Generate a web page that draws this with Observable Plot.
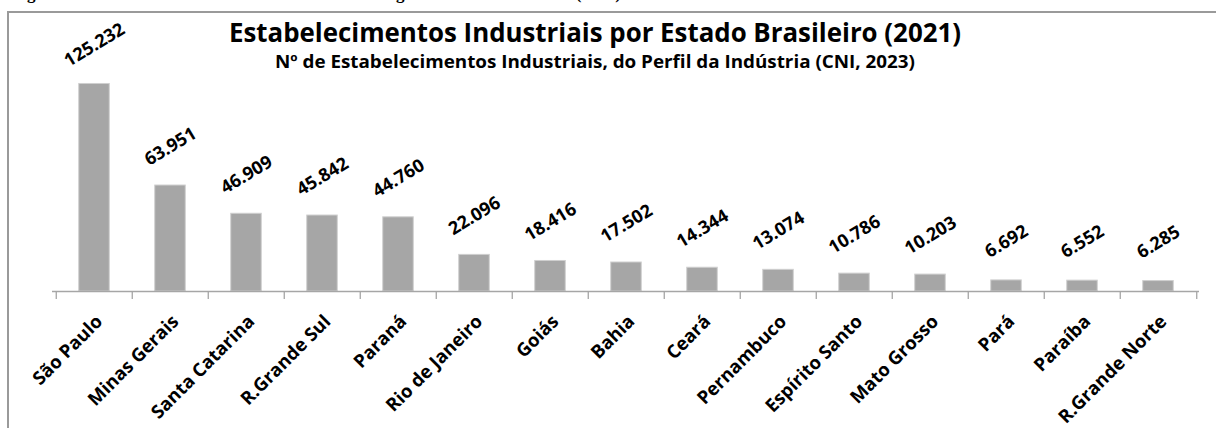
<!DOCTYPE html>
<html>
<head>
<meta charset="utf-8">
<script src="https://cdn.jsdelivr.net/npm/d3@7"></script>
<script src="https://cdn.jsdelivr.net/npm/@observablehq/plot@0.6"></script>
<style>
  html, body { margin: 0; padding: 0; background: #fff; }
  #wrap { position: relative; width: 1216px; height: 428px; overflow: hidden; background: #fff; }
  #cap { position: absolute; left: 12px; top: -16px; font: bold 17px/20px "Liberation Serif", serif; color: #000; white-space: nowrap; }
  #frame { position: absolute; left: 7px; top: 11px; width: 1300px; height: 600px; border: 2px solid #9a9a9a; box-sizing: border-box; }
  #chart { position: absolute; left: 0; top: 0; }
</style>
</head>
<body>
<div id="wrap">
  <div id="cap">Figura 3: Número de Estabelecimentos Industriais segundo Estado Brasileiro (2021)</div>
  <div id="frame"></div>
  <div id="chart"></div>
</div>
<script>
const categories = ["São Paulo", "Minas Gerais", "Santa Catarina", "R.Grande Sul", "Paraná", "Rio de Janeiro", "Goiás", "Bahia", "Ceará", "Pernambuco", "Espírito Santo", "Mato Grosso", "Pará", "Paraíba", "R.Grande Norte"];
const values = [125232, 63951, 46909, 45842, 44760, 22096, 18416, 17502, 14344, 13074, 10786, 10203, 6692, 6552, 6285];
const title = "Estabelecimentos Industriais por Estado Brasileiro (2021)";
const subtitle = "Nº de Estabelecimentos Industriais, do Perfil da Indústria (CNI, 2023)";

const ptBR = d3.formatLocale({decimal: ",", thousands: ".", grouping: [3], currency: ["R$", ""]});
const fmt = ptBR.format(",d");

const data = categories.map((c, i) => ({state: c, value: values[i]}));

const W = 1216, H = 428;
const mL = 52, mR = 17, mT = 59, mB = 137;
const step = (W - mL - mR) / categories.length;
const FONT = "'Open Sans', sans-serif";

const plot = Plot.plot({
  width: W,
  height: H,
  marginLeft: mL,
  marginRight: mR,
  marginTop: mT,
  marginBottom: mB,
  style: {background: "transparent", fontFamily: FONT},
  x: {type: "band", domain: categories, padding: 0, axis: null},
  y: {domain: [0, 140000], axis: null},
  marks: [
    Plot.barY(data, {x: "state", y: "value", fill: "#a6a6a6", stroke: "#cfcfcf", strokeWidth: 1,
      insetLeft: (step - 31) / 2, insetRight: (step - 31) / 2}),
    Plot.ruleY([0], {stroke: "#a6a6a6", strokeWidth: 1.3}),
    Plot.ruleX(categories, {x: d => d, dx: -step / 2, stroke: "#a6a6a6", strokeWidth: 1.3,
      insetTop: H - mT - mB, insetBottom: -8}),
    Plot.ruleX(categories.slice(-1), {x: d => d, dx: step / 2, stroke: "#a6a6a6", strokeWidth: 1.3,
      insetTop: H - mT - mB, insetBottom: -8}),
    Plot.text(data, {x: "state", y: "value", text: d => fmt(d.value), rotate: -31,
      dy: -39, dx: 0, fontSize: 18, fontWeight: "bold", fill: "#000", textAnchor: "middle", lineAnchor: "middle"}),
    Plot.text(categories, {x: d => d, frameAnchor: "bottom", text: d => d, rotate: -45,
      textAnchor: "end", lineAnchor: "middle", dx: 5, dy: 27, fontSize: 18.5, fontWeight: "bold", fill: "#000"})
  ]
});

document.getElementById("chart").appendChild(plot);

const svg = d3.select(plot);
svg.append("text")
  .attr("x", 595).attr("y", 42)
  .attr("text-anchor", "middle")
  .attr("font-family", FONT).attr("font-weight", "bold").attr("font-size", 27)
  .attr("textLength", 732).attr("lengthAdjust", "spacingAndGlyphs")
  .attr("fill", "#000")
  .text(title);
svg.append("text")
  .attr("x", 595).attr("y", 68)
  .attr("text-anchor", "middle")
  .attr("font-family", FONT).attr("font-weight", "bold").attr("font-size", 17)
  .attr("textLength", 640).attr("lengthAdjust", "spacingAndGlyphs")
  .attr("fill", "#000")
  .text(subtitle);
</script>
</body>
</html>
